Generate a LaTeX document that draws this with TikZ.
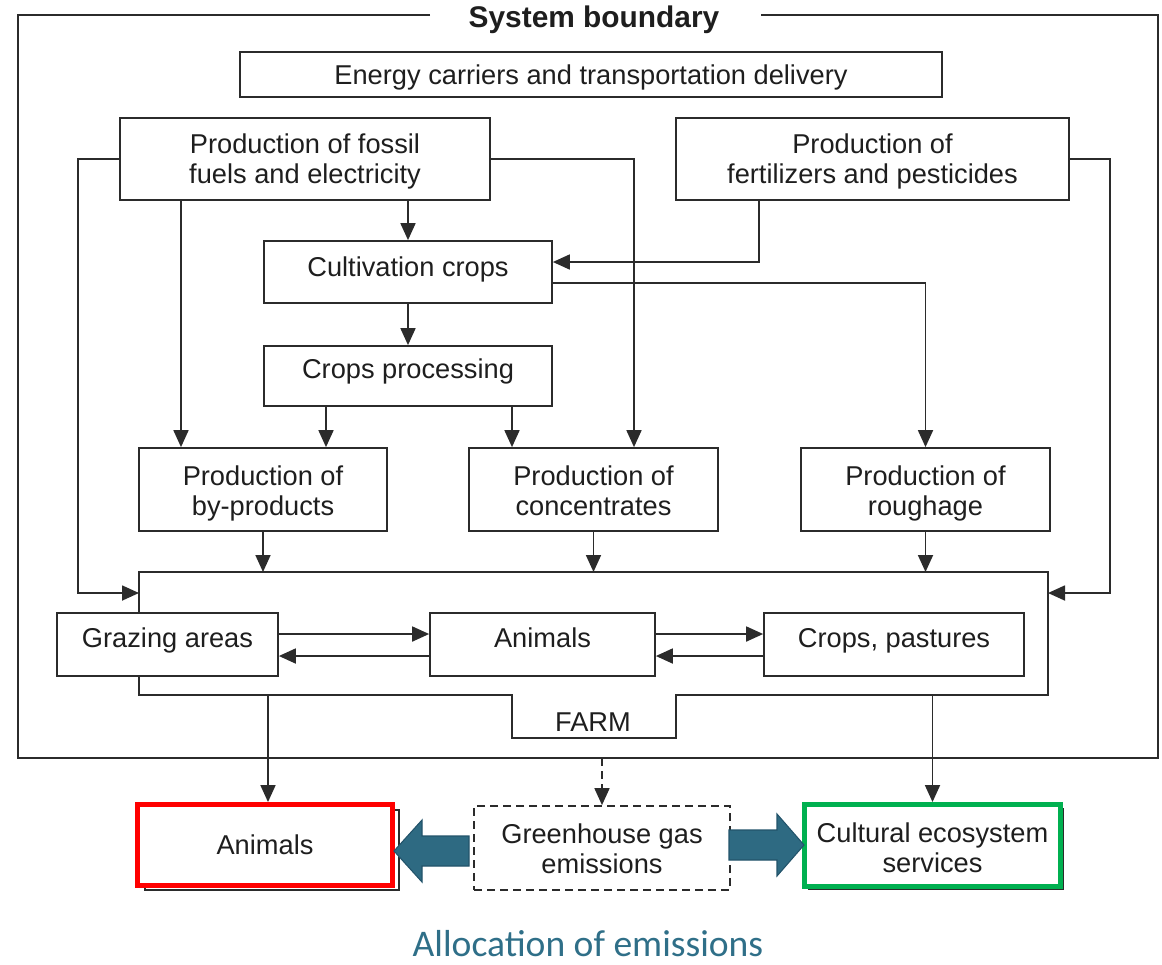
\documentclass[tikz,border=0pt]{standalone}
\usepackage{fontspec}
\setmainfont{Liberation Sans}
\newfontfamily\allocfont{Carlito}
\usetikzlibrary{arrows.meta,calc}
\definecolor{lnc}{HTML}{2B2B2B}
\definecolor{txc}{HTML}{1E1E1E}
\definecolor{arrteal}{HTML}{2E6A82}
\definecolor{arredge}{HTML}{22536A}
\definecolor{alloccol}{HTML}{2F6F88}
\definecolor{redbox}{HTML}{FF0000}
\definecolor{greenbox}{HTML}{00B050}
\tikzset{
  box/.style={draw=lnc, line width=1pt, fill=white, inner sep=0pt},
  txt/.style={font=\fontsize{15.5}{17}\selectfont, text=txc, align=center, inner sep=0pt,
    text height=0.4cm, text depth=0.12cm},
  txttwo/.style={font=\fontsize{15.5}{17}\selectfont, text=txc, align=center, inner sep=0pt,
    text depth=0.12cm},
  arr/.style={draw=lnc, line width=1pt, -{Triangle[length=0.34cm,width=0.3cm]}},
  plain/.style={draw=lnc, line width=1pt},
  shadowbox/.style={draw=lnc, line width=0.7pt, inner sep=0pt},
  blockarrow/.style={fill=arrteal, draw=arredge, line width=0.6pt},
}
\begin{document}
\begin{tikzpicture}[x=0.02cm, y=-0.02cm]
\useasboundingbox (0,0) rectangle (1162,964);

% system boundary
\coordinate (sysTL) at (18,15);
\coordinate (sysBL) at (18,758);
\coordinate (sysBR) at (1158,758);
\coordinate (sysTR) at (1158,15);
\draw[plain] (430,15) -- (sysTL) -- (sysBL) -- (sysBR) -- (sysTR) -- (761,15);
\node[txt, font=\fontsize{17}{20}\selectfont\bfseries] (title) at (594,20.5) {System boundary};

% top boxes
\node[box, minimum width=14.04cm, minimum height=0.9cm] (energy) at (591,74.5) {};
\node[txt] (energyT) at (591,77.5) {Energy carriers and transportation delivery};
\node[box, minimum width=7.4cm, minimum height=1.64cm] (fossil) at (305,159) {};
\node[txttwo] (fossilT) at (305,161.5) {Production of fossil\\fuels and electricity};
\node[box, minimum width=7.86cm, minimum height=1.64cm] (fert) at (872.5,159) {};
\node[txttwo] (fertT) at (872.5,161.5) {Production of\\fertilizers and pesticides};

\node[box, minimum width=5.76cm, minimum height=1.24cm] (cult) at (408,272) {};
\node[txt] (cultT) at (408,269.5) {Cultivation crops};
\node[box, minimum width=5.76cm, minimum height=1.2cm] (proc) at (408,376) {};
\node[txt] (procT) at (408,371) {Crops processing};

\node[box, minimum width=4.96cm, minimum height=1.66cm] (byp) at (263,489.5) {};
\node[txttwo] (bypT) at (263,494) {Production of\\by-products};
\node[box, minimum width=4.98cm, minimum height=1.66cm] (conc) at (593.5,489.5) {};
\node[txttwo] (concT) at (593.5,494) {Production of\\concentrates};
\node[box, minimum width=4.98cm, minimum height=1.66cm] (rough) at (925.5,489.5) {};
\node[txttwo] (roughT) at (925.5,494) {Production of\\roughage};

% farm outline
\coordinate (farmTL) at (139,572);
\coordinate (farmTR) at (1048,572);
\coordinate (farmBR) at (1048,695);
\coordinate (farmBL) at (139,695);
\coordinate (farmLin) at (139,593);
\coordinate (farmRin) at (1048,593);
\draw[plain] (farmTL) -- (farmTR) -- (farmBR) -- (676,695) -- (676,738) -- (512,738) -- (512,695) -- (farmBL) -- cycle;
\node[txt] (farm) at (593,724) {FARM};

\node[box, minimum width=4.42cm, minimum height=1.26cm] (graz) at (167.5,644.5) {};
\node[txt] (grazT) at (167.5,640) {Grazing areas};
\node[box, minimum width=4.5cm, minimum height=1.26cm] (anim) at (542.5,644.5) {};
\node[txt] (animT) at (542.5,640) {Animals};
\node[box, minimum width=5.2cm, minimum height=1.26cm] (crpa) at (894,644.5) {};
\node[txt] (crpaT) at (894,640) {Crops, pastures};

% bottom boxes
\node[shadowbox, minimum width=5.08cm, minimum height=1.6cm] (animSh) at (272,850) {};
\node[box, draw=redbox, line width=2.8pt, minimum width=5.1cm, minimum height=1.62cm] (animr) at (265,845) {};
\node[txt] (animrT) at (265,847.5) {Animals};
\node[box, dashed, dash pattern=on 0.16cm off 0.1cm, minimum width=5.12cm, minimum height=1.68cm] (ghg) at (602,848) {};
\node[txttwo] (ghgT) at (602,852) {Greenhouse gas\\emissions};
\node[shadowbox, minimum width=5.1cm, minimum height=1.62cm] (cultSh) at (936,849) {};
\node[box, draw=greenbox, line width=2.8pt, minimum width=5.12cm, minimum height=1.64cm] (cult2) at (932.5,845.5) {};
\node[txttwo] (cult2T) at (932.5,851) {Cultural ecosystem\\services};

% connectors
\draw[arr] (cult.north |- fossil.south) -- (cult.north);
\draw[arr] (cult.south) -- (proc.north);
\draw[arr] (326,0 |- proc.south) -- (326,0 |- byp.north);
\draw[arr] (512,0 |- proc.south) -- (512,0 |- conc.north);
\draw[arr] (181,0 |- fossil.south) -- (181,0 |- byp.north);
\draw[arr] (fossil.west) -| (78,593) -- (farmLin);
\draw[arr] (fossil.east) -| (634,0 |- conc.north);
\draw[arr] (759,0 |- fert.south) |- (cult.east |- 0,262);
\draw[arr] (cult.east |- 0,283) -| (rough.north);
\draw[arr] (fert.east) -| (1110,593) -- (farmRin);
\draw[arr] (byp.south) -- (byp.south |- farmTL);
\draw[arr] (conc.south) -- (conc.south |- farmTL);
\draw[arr] (rough.south) -- (rough.south |- farmTL);
\draw[arr] (graz.east |- 0,634) -- (anim.west |- 0,634);
\draw[arr] (anim.west |- 0,656) -- (graz.east |- 0,656);
\draw[arr] (anim.east |- 0,634) -- (crpa.west |- 0,634);
\draw[arr] (crpa.west |- 0,656) -- (anim.east |- 0,656);
\draw[arr] (268,0 |- farmBL) -- (268,0 |- animr.north);
\draw[arr, dashed, dash pattern=on 0.16cm off 0.1cm] (ghg.north |- sysBL) -- (ghg.north);
\draw[arr] (cult2.north |- farmBR) -- (cult2.north);

% block arrows
\draw[blockarrow] (469,836) -- (422,836) -- (422,820) -- (394,851) -- (422,882) -- (422,866) -- (469,866) -- cycle;
\draw[blockarrow] (729,830) -- (777,830) -- (777,814) -- (804,845) -- (777,876) -- (777,860) -- (729,860) -- cycle;

\node[inner sep=0pt, text=alloccol, font=\allocfont\fontsize{21.4}{25}\selectfont] (alloc) at (588,944) {Allocation of emissions};
\end{tikzpicture}
\end{document}
